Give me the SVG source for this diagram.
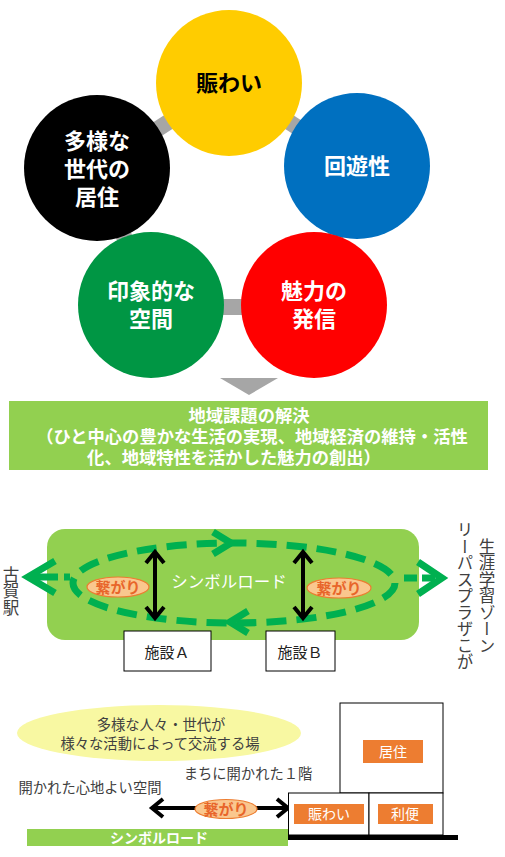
<svg xmlns="http://www.w3.org/2000/svg" width="505" height="857" viewBox="0 0 505 857">
<style>
text{font-family:"Noto Sans CJK JP","Noto Sans",sans-serif;dominant-baseline:central;text-anchor:middle}
.ct{font-size:22px;font-weight:bold;fill:#fff}
.bx{font-size:17.3px;font-weight:bold;fill:#fff}
.dk{font-size:14.3px;fill:#404040}
.vt{font-size:16.5px;fill:#404040;writing-mode:vertical-rl}
.lb{font-size:14px;fill:#fff}
.tn{font-size:15px;font-weight:bold;fill:#E8652A}
.tne{fill:#FAC78E;stroke:#ED7D31;stroke-width:1.2}
.og{fill:#ED7D31}
.gray{stroke:#A6A6A6;stroke-width:16;fill:none}
.dash{fill:none;stroke:#00B050;stroke-width:7}
.blk{fill:none;stroke:#000;stroke-width:4}
.fac{fill:#fff;stroke:#000;stroke-width:1}
</style>
<g id="connectors">
<line class="gray" x1="229" y1="83" x2="97" y2="168"/>
<line class="gray" x1="229" y1="83" x2="357" y2="166"/>
<line class="gray" x1="97" y1="168" x2="151" y2="305"/>
<line class="gray" x1="357" y1="166" x2="314" y2="305"/>
<line class="gray" x1="151" y1="307" x2="314" y2="307"/>
</g>
<g id="node-nigiwai"><circle cx="229" cy="83" r="73" fill="#FFCC00"/><text class="ct" x="229" y="81" style="fill:#000">賑わい</text></g>
<g id="node-kyoju"><circle cx="97" cy="168" r="73" fill="#000"/><text class="ct" x="97" y="139">多様な</text><text class="ct" x="97" y="167">世代の</text><text class="ct" x="97" y="195">居住</text></g>
<g id="node-kaiyu"><circle cx="357" cy="166" r="73" fill="#0070C0"/><text class="ct" x="357" y="164">回遊性</text></g>
<g id="node-kukan"><circle cx="151" cy="305" r="73" fill="#009644"/><text class="ct" x="151" y="289">印象的な</text><text class="ct" x="151" y="317">空間</text></g>
<g id="node-hasshin"><circle cx="314" cy="305" r="73" fill="#FF0000"/><text class="ct" x="314" y="289">魅力の</text><text class="ct" x="314" y="317">発信</text></g>
<g id="arrow-down"><polygon points="220,378 278,378 249,395" fill="#A6A6A6"/></g>
<g id="node-kaiketsu">
<rect x="9" y="401" width="479" height="69" fill="#92D050"/>
<text class="bx" x="249" y="414">地域課題の解決</text>
<text class="bx" x="252" y="435">（ひと中心の豊かな生活の実現、地域経済の維持・活性</text>
<text class="bx" x="234" y="456">化、地域特性を活かした魅力の創出）</text>
</g>
<g id="node-road">
<rect x="47" y="529" width="372" height="111" rx="18" fill="#92D050"/>
<text x="229" y="581" style="font-size:16.5px;fill:#fff">シンボルロード</text>
</g>
<g id="connectors-road">
<ellipse class="dash" cx="234" cy="583" rx="161" ry="40" stroke-dasharray="20 10"/>
<polyline class="dash" points="213,532 231,543 213,554"/>
<polyline class="dash" points="248,611 230,622 248,633"/>
<line class="dash" x1="28" y1="577" x2="70" y2="577" stroke-dasharray="30 6"/>
<polyline class="dash" points="55,561 28,577 55,593" stroke-width="8"/>
<line class="dash" x1="404" y1="578" x2="438" y2="578" stroke-dasharray="13 5"/>
<polyline class="dash" points="418,562 442,578 418,594" stroke-width="8"/>
<line class="blk" x1="155" y1="553" x2="155" y2="617"/>
<polyline class="blk" points="146,563 155,552 164,563"/>
<polyline class="blk" points="146,607 155,618 164,607"/>
<line class="blk" x1="303" y1="553" x2="303" y2="617"/>
<polyline class="blk" points="294,563 303,552 312,563"/>
<polyline class="blk" points="294,607 303,618 312,607"/>
</g>
<g id="tsunagari-1"><ellipse class="tne" cx="118" cy="587" rx="31" ry="10"/><text class="tn" x="118" y="586">繋がり</text></g>
<g id="tsunagari-2"><ellipse class="tne" cx="339" cy="588" rx="32" ry="10"/><text class="tn" x="339" y="587">繋がり</text></g>
<g id="node-shisetsu-a"><rect class="fac" x="124" y="631" width="87" height="40"/><text x="167" y="651" style="font-size:15px;fill:#222">施設Ａ</text></g>
<g id="node-shisetsu-b"><rect class="fac" x="266" y="631" width="69" height="40"/><text x="300" y="651" style="font-size:15px;fill:#222">施設Ｂ</text></g>
<g id="node-koga"><text class="vt" x="11" y="591">古賀駅</text></g>
<g id="node-lipasu"><text class="vt" x="487" y="596">生涯学習ゾーン</text><text class="vt" x="465" y="596">リーパスプラザこが</text></g>
<g id="node-ba">
<ellipse cx="159" cy="733" rx="142" ry="28" fill="#F8F8A2"/>
<text class="dk" x="161" y="723">多様な人々・世代が</text>
<text class="dk" x="160" y="742">様々な活動によって交流する場</text>
</g>
<text class="dk" x="248" y="772">まちに開かれた１階</text>
<text class="dk" x="90" y="786">開かれた心地よい空間</text>
<g id="connector-bottom">
<line class="blk" x1="153" y1="808" x2="287" y2="808"/>
<polyline class="blk" points="163,799 152,808 163,817"/>
<polyline class="blk" points="277,799 288,808 277,817"/>
</g>
<g id="tsunagari-3"><ellipse class="tne" cx="226" cy="809" rx="31" ry="9.5"/><text class="tn" x="226" y="808">繋がり</text></g>
<g id="node-roadbar"><rect x="27" y="829" width="261" height="17" fill="#92D050"/><text x="159" y="837" style="font-size:14px;font-weight:bold;fill:#fff">シンボルロード</text></g>
<g id="node-building">
<rect class="fac" x="340" y="703" width="103" height="90"/>
<rect class="fac" x="288.5" y="793" width="80.5" height="42"/>
<rect class="fac" x="369" y="793" width="74" height="42"/>
<rect x="288" y="835" width="170" height="5" fill="#000"/>
<rect class="og" x="363" y="740" width="60" height="23"/><text class="lb" x="393" y="751">居住</text>
<rect class="og" x="294" y="804" width="70" height="20"/><text class="lb" x="329" y="813">賑わい</text>
<rect class="og" x="378" y="804" width="55" height="20"/><text class="lb" x="405" y="813">利便</text>
</g>
</svg>
